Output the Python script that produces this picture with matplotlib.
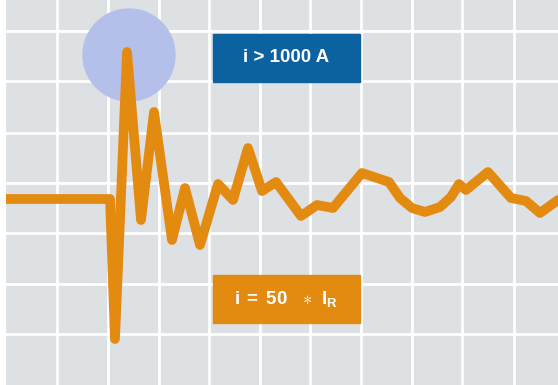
import numpy as np
import matplotlib.pyplot as plt
from matplotlib.patches import Circle, Rectangle

plt.rcParams['font.family'] = 'Liberation Sans'
plt.rcParams['mathtext.fontset'] = 'custom'
plt.rcParams['mathtext.bf'] = 'Liberation Sans:bold'
plt.rcParams['mathtext.rm'] = 'Liberation Sans'

# transient current trace (time in arbitrary units, current relative to baseline)
t = [6, 110, 115, 127, 141, 154, 172, 185, 200, 218, 233, 248, 262, 276,
     301, 317, 333, 362, 389, 400, 412, 425, 440, 451, 459, 466, 488, 511,
     526, 540, 558]
current = [0, 0, -140, 147, -21, 87, -41, 11, -46, 15, -1, 51, 8, 17,
           -17, -6, -9, 26, 17, 1, -9, -13, -8, 2, 15, 9, 27, 1,
           -2, -14, -1]

grid_t = [57, 108, 159, 209, 260, 310, 361, 412, 462, 514]
grid_i = [168, 118, 66, 16, -34, -85, -135]

peak_label = 'i > 1000 A'
rated_label = r'$\mathbf{i\:=\:50\ \ \ast\ I_R}$'

orange = '#E38A10'
blue = '#0C62A0'

fig = plt.figure(figsize=(5.58, 3.85), dpi=100)
fig.patch.set_facecolor('white')
ax = fig.add_axes([6/558, 0, 552/558, 1])
ax.set_facecolor('#DEE1E3')
ax.set_xlim(6, 558)
ax.set_ylim(-186, 199)

ax.set_xticks(grid_t)
ax.set_yticks(grid_i)
ax.grid(True, color='white', lw=2)
ax.set_axisbelow(True)
ax.tick_params(length=0, labelbottom=False, labelleft=False)
for s in ax.spines.values():
    s.set_visible(False)

# highlight of the peak
ax.add_patch(Circle((129, 144), 46, color='#B4C0EA', zorder=2))

ax.plot(t, current, color=orange, lw=7, solid_joinstyle='round',
        solid_capstyle='round', zorder=3)

# labels
ax.add_patch(Rectangle((213, 117), 147, 48, color=blue, zorder=4))
ax.text(286, 141, peak_label, color='white', fontsize=13.5, fontweight='bold',
        ha='center', va='center', zorder=5)

ax.add_patch(Rectangle((213, -124), 147, 48, color=orange, zorder=4))
ax.text(286, -100, rated_label, color='white', fontsize=13.5,
        ha='center', va='center', zorder=5)

fig.savefig('out.png', dpi=100)
